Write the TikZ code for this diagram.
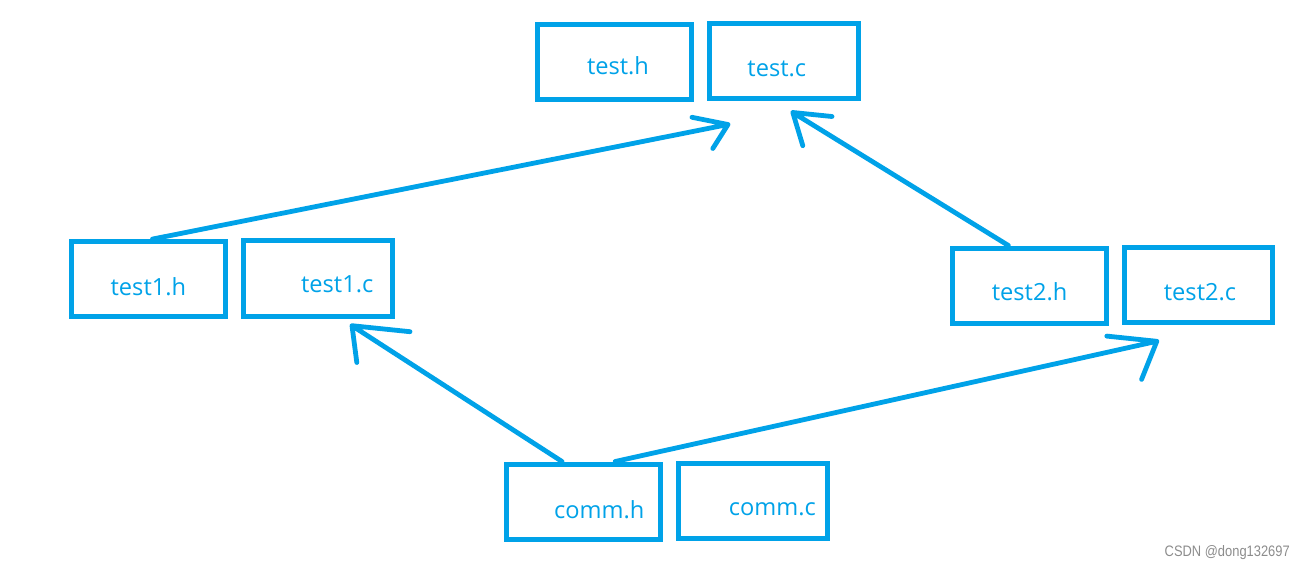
\documentclass[tikz,border=0pt]{standalone}
\usepackage{fontspec}
\setmainfont{Open Sans}
\newfontfamily\markfont{Liberation Sans}
\usepackage{tikz}
\definecolor{paintblue}{RGB}{0,162,232}

\begin{document}
\begin{tikzpicture}[
  filebox/.style={draw=paintblue, line width=0.125cm, minimum height=1.88cm, inner sep=0pt},
  hbox/.style={filebox, minimum width=3.85cm},
  cbox/.style={filebox, minimum width=3.72cm},
  fname/.style={text=paintblue, inner sep=0pt, font=\fontsize{16.8}{19}\selectfont},
  link/.style={paintblue, line width=0.12cm, line cap=round, line join=round}
]
\useasboundingbox (0cm,0cm) rectangle (32.65cm,-14.225cm);

\node[hbox, label={[fname,xshift=0.1cm,yshift=-0.09cm]center:test.h}] (testh) at (15.35cm,-1.54cm) {};
\node[cbox, label={[fname,xshift=-0.18cm,yshift=-0.18cm]center:test.c}] (testc) at (19.6cm,-1.53cm) {};
\node[hbox, label={[fname,xshift=0cm,yshift=-0.18cm]center:test1.h}] (testah) at (3.71cm,-6.98cm) {};
\node[cbox, label={[fname,xshift=0.49cm,yshift=-0.14cm]center:test1.c}] (testac) at (7.94cm,-6.96cm) {};
\node[hbox, label={[fname,xshift=0cm,yshift=-0.16cm]center:test2.h}] (testbh) at (25.74cm,-7.14cm) {};
\node[cbox, label={[fname,xshift=0.04cm,yshift=-0.18cm]center:test2.c}] (testbc) at (29.96cm,-7.13cm) {};
\node[hbox, label={[fname,xshift=0.39cm,yshift=-0.19cm]center:comm.h}] (commh) at (14.59cm,-12.54cm) {};
\node[cbox, label={[fname,xshift=0.48cm,yshift=-0.2cm]center:comm.c}] (commc) at (18.83cm,-12.53cm) {};

\coordinate (tipa) at ([shift={(-1.4cm,-0.58cm)}]testc.south);
\coordinate (tipb) at ([shift={(0.22cm,-0.28cm)}]testc.south);
\coordinate (tipc) at ([shift={(0.86cm,-0.18cm)}]testac.south);
\coordinate (tipd) at ([shift={(-1.04cm,-0.4cm)}]testbc.south);

\draw[link] ([xshift=0.1cm]testah.north) -- (tipa) -- +(-0.9cm,0.18cm) (tipa) -- +(-0.38cm,-0.6cm);
\draw[link] ([xshift=-0.53cm]testbh.north) -- (tipb) -- +(0.98cm,-0.1cm) (tipb) -- +(0.25cm,-0.83cm);
\draw[link] ([xshift=-0.54cm]commh.north) -- (tipc) -- +(1.45cm,-0.15cm) (tipc) -- +(0.12cm,-0.92cm);
\draw[link] ([xshift=0.79cm]commh.north) -- (tipd) -- +(-1.25cm,0.13cm) (tipd) -- +(-0.38cm,-0.95cm);

\node[anchor=base east, inner sep=0pt, xscale=0.85, text=black!45, font=\markfont\fontsize{10.8}{12}\selectfont] (mark) at (32.25cm,-13.9cm) {CSDN @dong132697};
\end{tikzpicture}
\end{document}
